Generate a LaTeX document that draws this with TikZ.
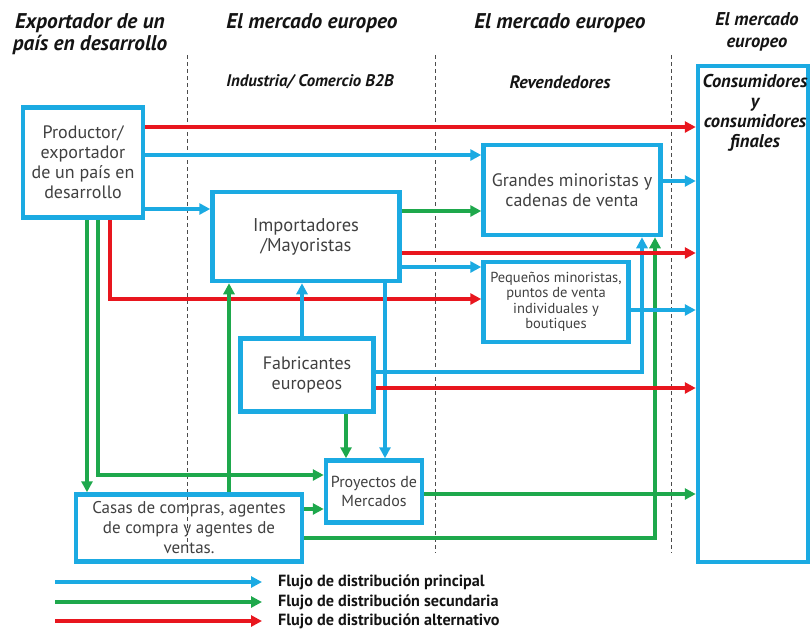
\documentclass[tikz,border=0pt]{standalone}
\usepackage{fontspec}
\setmainfont{PT Sans}
\usetikzlibrary{arrows.meta}

\definecolor{azul}{RGB}{27,170,226}
\definecolor{verde}{RGB}{30,168,76}
\definecolor{rojo}{RGB}{232,22,30}
\definecolor{texto}{RGB}{64,64,64}
\definecolor{tinta}{RGB}{20,20,20}

\tikzset{
  caja/.style={draw=azul,line width=4.5pt,align=center,text=texto,inner sep=2pt,
    font=\fontsize{18}{20}\selectfont},
  titulo/.style={align=center,text=tinta,font=\fontsize{21.3}{22}\selectfont\bfseries\itshape},
  subtitulo/.style={align=center,text=tinta,font=\fontsize{16.8}{20}\selectfont\bfseries\itshape},
  leyenda/.style={anchor=west,inner sep=0pt,text=tinta,font=\fontsize{16.2}{20}\selectfont\bfseries},
  division/.style={draw=black!70,line width=0.6pt,dash pattern=on 4pt off 3pt},
  flujo/.style={line width=3.2pt,-{Triangle[length=11pt,width=11pt]}},
  principal/.style={flujo,draw=azul},
  secundario/.style={flujo,draw=verde},
  alternativo/.style={flujo,draw=rojo}
}

\begin{document}
\begin{tikzpicture}[x=1pt,y=-1pt]
    \useasboundingbox (0,0) rectangle (811,630);
    % encabezados
    \node[titulo] (exp) at (90,34) {Exportador de un\\país en desarrollo};
    \node[titulo] (me1) at (312,23) {El mercado europeo};
    \node[titulo] (me2) at (560,23) {El mercado europeo};
    \node[titulo,font=\fontsize{18.5}{22}\selectfont\bfseries\itshape] (me3) at (757,32) {El mercado\\europeo};
    \node[subtitulo] (b2b) at (310,82) {Industria/ Comercio B2B};
    \node[subtitulo,font=\fontsize{18}{20}\selectfont\bfseries\itshape] (rev) at (560,82) {Revendedores};
    \draw[division] (187,55) -- (187,553);
    \draw[division] (435,55) -- (435,553);
    \draw[division] (671,55) -- (671,553);
    % cajas
    \node[caja,minimum width=120pt,minimum height=110pt] (prod) at (83,162.5) {Productor/\\exportador\\de un país en\\desarrollo};
    \node[caja,minimum width=187pt,minimum height=89pt,font=\fontsize{18.5}{20}\selectfont] (imp) at (306,236.5) {Importadores\\/Mayoristas};
    \node[caja,minimum width=177pt,minimum height=90pt] (gran) at (572,190) {Grandes minoristas y\\cadenas de venta};
    \node[caja,minimum width=145pt,minimum height=80pt,font=\fontsize{14.5}{15.5}\selectfont] (peq) at (556,302) {Pequeños minoristas,\\puntos de venta\\individuales y\\boutiques};
    \node[caja,minimum width=133pt,minimum height=73pt] (fab) at (307,375) {Fabricantes\\europeos};
    \node[caja,minimum width=96pt,minimum height=62pt,font=\fontsize{16}{19}\selectfont] (proy) at (374,491.5) {Proyectos de\\Mercados};
    \node[caja,minimum width=226pt,minimum height=67pt,font=\fontsize{17}{20}\selectfont] (casas) at (189,528) {Casas de compras, agentes\\de compra y agentes de\\ventas.};
    \node[caja,minimum width=110pt,minimum height=496pt] (cons) at (753,314) {};
    \node[titulo,font=\fontsize{18.5}{20}\selectfont\bfseries\itshape,anchor=north] (consT) at (755,71) {Consumidores\\y\\consumidores\\finales};
    % flujos verticales
    \draw[secundario] (prod.south -| 87,0) -- (casas.north -| 87,0);
    \draw[secundario] (prod.south -| 98,0) |- (proy.west |- 0,475);
    \draw[alternativo] (prod.south -| 110,0) |- (peq.west |- 0,299);
    \draw[secundario] (casas.north -| 229,0) -- (imp.south -| 229,0);
    \draw[principal] (fab.north -| 302,0) -- (imp.south -| 302,0);
    \draw[principal] (imp.south -| 385,0) -- (proy.north -| 385,0);
    \draw[secundario] (fab.south -| 346,0) -- (proy.north -| 346,0);
    \draw[principal] (fab.east |- 0,372) -| (gran.south -| 642,0);
    \draw[secundario] (casas.east |- 0,538) -| (gran.south -| 655,0);
    % flujos horizontales
    \draw[alternativo] (prod.east |- 0,127) -- (cons.west |- 0,127);
    \draw[principal] (prod.east |- 0,155) -- (gran.west |- 0,155);
    \draw[principal] (prod.east |- 0,209) -- (imp.west |- 0,209);
    \draw[secundario] (imp.east |- 0,211) -- (gran.west |- 0,211);
    \draw[alternativo] (imp.east |- 0,253) -- (cons.west |- 0,253);
    \draw[principal] (imp.east |- 0,267) -- (peq.west |- 0,267);
    \draw[principal] (gran.east |- 0,181) -- (cons.west |- 0,181);
    \draw[principal] (peq.east |- 0,310) -- (cons.west |- 0,310);
    \draw[alternativo] (fab.east |- 0,388) -- (cons.west |- 0,388);
    \draw[secundario] (casas.east |- 0,509) -- (proy.west |- 0,509);
    \draw[secundario] (proy.east |- 0,494) -- (cons.west |- 0,494);
    % leyenda
    \coordinate (l1) at (55,582);
    \coordinate (l2) at (55,602);
    \coordinate (l3) at (55,621);
    \node[leyenda] (lp) at (278,582) {Flujo de distribución principal};
    \node[leyenda] (ls) at (278,602) {Flujo de distribución secundaria};
    \node[leyenda] (la) at (278,621) {Flujo de distribución alternativo};
    \draw[principal,shorten >=16pt] (l1) -- (lp.west);
    \draw[secundario,shorten >=16pt] (l2) -- (ls.west);
    \draw[alternativo,shorten >=16pt] (l3) -- (la.west);
\end{tikzpicture}
\end{document}
